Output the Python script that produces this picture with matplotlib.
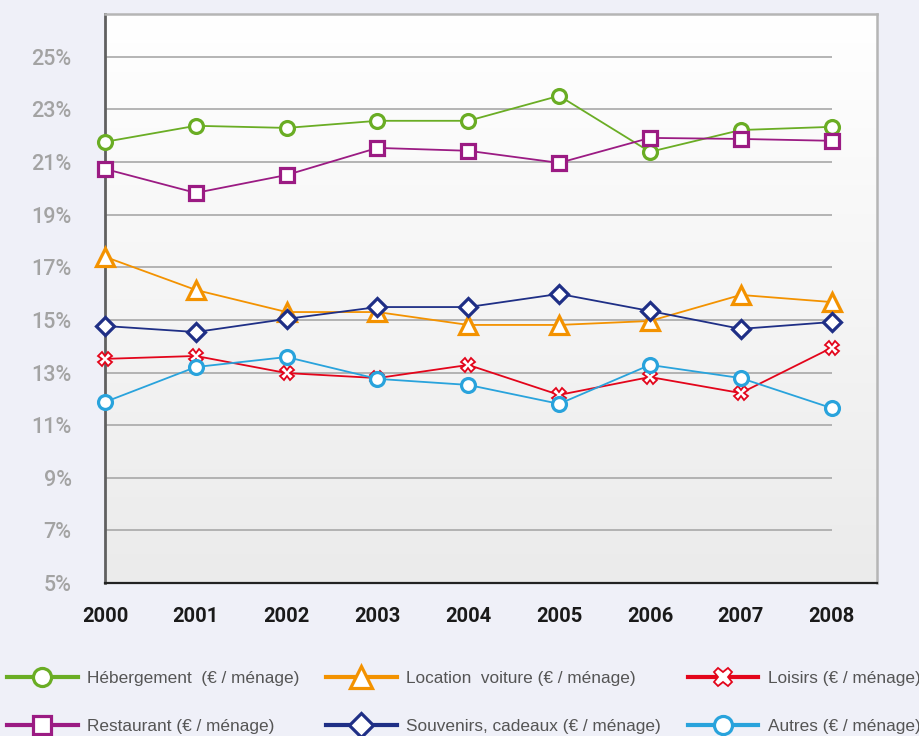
import numpy as np
import matplotlib
matplotlib.use("Agg")
import matplotlib.pyplot as plt
from matplotlib.lines import Line2D

# ─────────────────────────────────────────────
# Data (share of household spending, %)
# ─────────────────────────────────────────────
years = [2000, 2001, 2002, 2003, 2004, 2005, 2006, 2007, 2008]

hebergement = [21.77, 22.38, 22.30, 22.57, 22.57, 23.52, 21.39, 22.22, 22.34]
restaurant = [20.74, 19.83, 20.51, 21.54, 21.43, 20.97, 21.92, 21.88, 21.81]
location = [17.40, 16.14, 15.30, 15.30, 14.81, 14.81, 14.96, 15.95, 15.68]
souvenirs = [14.77, 14.54, 15.04, 15.49, 15.49, 15.99, 15.34, 14.66, 14.92]
loisirs = [13.52, 13.63, 12.98, 12.79, 13.29, 12.15, 12.83, 12.22, 13.94]
autres = [11.88, 13.21, 13.59, 12.76, 12.53, 11.81, 13.29, 12.79, 11.65]

labels = [
    "Hébergement  (€ / ménage)",
    "Restaurant (€ / ménage)",
    "Location  voiture (€ / ménage)",
    "Souvenirs, cadeaux (€ / ménage)",
    "Loisirs (€ / ménage)",
    "Autres (€ / ménage)",
]
yticks = [5, 7, 9, 11, 13, 15, 17, 19, 21, 23, 25]

# style per series: (values, colour, marker, size, edge width)
series = [
    (hebergement, "#6aad24", "o", 10, 2.3),
    (restaurant, "#9b1b83", "s", 10.5, 2.3),
    (location, "#f39200", "^", 13.5, 2.3),
    (souvenirs, "#1f2f86", "D", 9.5, 2.3),
    (loisirs, "#e3051b", "X", 10, 1.3),
    (autres, "#29a3dc", "o", 10, 2.3),
]

BG = "#eff0f8"

fig = plt.figure(figsize=(9.19, 7.36), dpi=100, facecolor=BG)
ax = fig.add_axes([105 / 919, 1 - 583 / 736, 772 / 919, 569 / 736])

ax.set_xlim(2000, 2008.5)
ax.set_ylim(5, 26.63)

# gradient panel background: light grey at the bottom, white at the top
grad = np.linspace(0, 1, 256).reshape(-1, 1)
ax.imshow(grad, extent=[2000, 2008.5, 5, 26.63], aspect="auto",
          cmap=matplotlib.colors.LinearSegmentedColormap.from_list(
              "bg", ["#ebebeb", "#ffffff"]),
          origin="lower", zorder=0)

# gridlines stop at the last year
ax.hlines(yticks[1:], years[0], years[-1], color="#a8a8a8", lw=1.2, zorder=1)

for vals, col, mk, ms, mew in series:
    ax.plot(years, vals, color=col, lw=1.3, marker=mk, ms=ms,
            mfc="white", mec=col, mew=mew, zorder=3, clip_on=False)

ax.set_yticks(yticks)
ax.set_yticklabels([f"{v}%" for v in yticks], fontsize=15.5,
                   color="#a3a3a3", fontfamily="Roboto", fontweight="medium")
ax.set_xticks(years)
ax.set_xticklabels([str(y) for y in years], fontsize=14.5,
                   fontfamily="Roboto", fontweight="bold", color="#1a1a1a")
ax.tick_params(axis="y", length=0, pad=24)
ax.tick_params(axis="x", length=0, pad=17)

for s in ("top", "right"):
    ax.spines[s].set_color("#b5b5b5")
    ax.spines[s].set_linewidth(1.8)
ax.spines["left"].set_color("#606060")
ax.spines["left"].set_linewidth(2)
ax.spines["bottom"].set_color("#222222")
ax.spines["bottom"].set_linewidth(1.6)

# legend, 3 columns x 2 rows
handles = []
for vals, col, mk, ms, mew in series:
    handles.append(Line2D([], [], color=col, lw=3, marker=mk, ms=ms + 3,
                          mfc="white", mec=col, mew=mew))
leg = fig.legend(handles, labels, ncol=3, loc="upper left",
                 bbox_to_anchor=(7 / 919, 1 - 671 / 736),
                 frameon=False, borderpad=0, borderaxespad=0,
                 handlelength=4.1, handletextpad=0.55, columnspacing=1.55,
                 labelspacing=1.9,
                 prop={"family": "Liberation Sans", "size": 12.4})
for t in leg.get_texts():
    t.set_color("#555555")

fig.savefig("out.png", dpi=100, facecolor=BG)
